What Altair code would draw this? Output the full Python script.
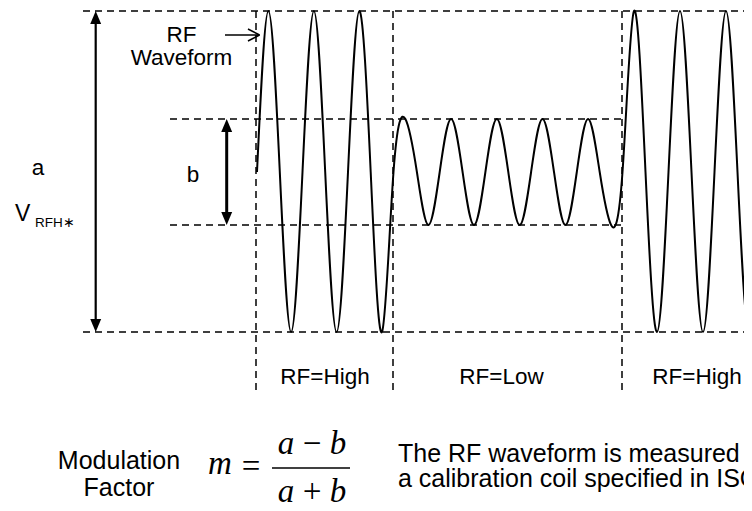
import altair as alt
import pandas as pd

# Chart covers the page area from (8,8); all values are in reference-pixel units
W, H = 736, 495
X0, Y0 = 8, 8

# RF waveform key points: zero crossings, peaks and troughs
wave_x = [257, 268.4, 279.8, 291.1, 302.5, 313.9, 325.2, 336.6, 348, 359.3, 370.7, 382, 393.5,
          405.4, 416.9, 428.3, 439.7, 451.1, 462.6, 474, 485.4, 496.8, 508.3, 519.7, 531.1,
          542.5, 554, 565.4, 576.8, 588.2, 599.7, 611.1, 622.5,
          634, 645.5, 657, 668.5, 680, 691.5, 703, 714.5, 726, 737.5, 749, 760.5]
wave_y = [172, 11, 172, 332, 172, 11, 172, 332, 172, 11, 172, 332, 172,
          119, 172, 225, 172, 119, 172, 225, 172, 119, 172, 225, 172,
          119, 172, 225, 172, 119, 172, 225, 172,
          11, 172, 332, 172, 11, 172, 332, 172, 11, 172, 332, 172]

# dashed reference lines
hdash_x = [83, 83, 170, 170]
hdash_x2 = [752, 752, 622, 622]
hdash_y = [11, 332, 119, 225]
vdash_x = [256, 393, 622]
vdash_y = [11, 11, 11]
vdash_y2 = [390, 390, 390]

# solid segments: a-arrow, b-arrow, RF pointer with open head, fraction bar
seg_x = [95.7, 226.7, 225, 259.5, 259.5, 272]
seg_y = [20, 126, 35, 35, 35, 468]
seg_x2 = [95.7, 226.7, 259.5, 248, 248, 350]
seg_y2 = [324, 218, 35, 29, 41, 468]
seg_w = [2.2, 3, 1.5, 1.5, 1.5, 1.6]

# filled arrowheads (tip positions)
head_x = [95.7, 95.7, 226.7, 226.7]
head_y = [11, 332, 119, 225]
head_dir = ["up", "down", "up", "down"]

# centred labels
lab_text = ["RF", "Waveform", "a", "b", "RF=High", "RF=Low", "RF=High"]
lab_x = [181.5, 181.5, 38, 193, 325, 501.5, 697]
lab_y = [42, 65, 175, 182, 384, 384, 384]

mod_text = ["Modulation", "Factor"]
mod_x = [119, 119]
mod_y = [469, 496]

note_text = ["The RF waveform is measured with", "a calibration coil specified in ISO"]
note_x = [398, 398]
note_y = [462, 487]

xs = alt.Scale(domain=[X0, X0 + W], nice=False, zero=False)
ys = alt.Scale(domain=[Y0, Y0 + H], reverse=True, nice=False, zero=False)

def X(f="x"):
    return alt.X(f + ":Q", scale=xs, axis=None)

def Y(f="y"):
    return alt.Y(f + ":Q", scale=ys, axis=None)

wave_df = pd.DataFrame({"x": wave_x, "y": wave_y, "i": range(len(wave_x))})
wave = alt.Chart(wave_df).mark_line(
    interpolate="natural", color="black", strokeWidth=2, clip=True
).encode(x=X(), y=Y(), order="i:Q")

hd = alt.Chart(pd.DataFrame({"x": hdash_x, "x2": hdash_x2, "y": hdash_y})).mark_rule(
    color="black", strokeWidth=1.5, strokeDash=[7, 5]
).encode(x=X(), x2="x2:Q", y=Y())

vd = alt.Chart(pd.DataFrame({"x": vdash_x, "y": vdash_y, "y2": vdash_y2})).mark_rule(
    color="black", strokeWidth=1.5, strokeDash=[7, 5]
).encode(x=X(), y=Y(), y2="y2:Q")

seg = alt.Chart(pd.DataFrame({"x": seg_x, "y": seg_y, "x2": seg_x2, "y2": seg_y2, "w": seg_w})).mark_rule(
    color="black"
).encode(x=X(), y=Y(), x2="x2:Q", y2="y2:Q", size=alt.Size("w:Q", scale=None, legend=None))

paths = {"up": "M0,0L-0.42,1L0.42,1Z", "down": "M0,0L-0.42,-1L0.42,-1Z"}
heads = alt.Chart(pd.DataFrame({"x": head_x, "y": head_y,
                                "s": [paths[d] for d in head_dir]})).mark_point(
    filled=True, color="black", opacity=1, size=676, strokeWidth=0
).encode(x=X(), y=Y(), shape=alt.Shape("s:N", scale=None, legend=None))

labels = alt.Chart(pd.DataFrame({"t": lab_text, "x": lab_x, "y": lab_y})).mark_text(
    font="Liberation Sans", fontSize=22.5, align="center", baseline="alphabetic", color="black"
).encode(x=X(), y=Y(), text="t:N")

vlab = alt.Chart(pd.DataFrame({"t": ["V"], "x": [15], "y": [221]})).mark_text(
    font="Liberation Sans", fontSize=23, align="left", baseline="alphabetic", color="black"
).encode(x=X(), y=Y(), text="t:N")
vsub = alt.Chart(pd.DataFrame({"t": ["RFH\u2217"], "x": [35], "y": [227]})).mark_text(
    font="Liberation Sans", fontSize=13.5, align="left", baseline="alphabetic", color="black"
).encode(x=X(), y=Y(), text="t:N")

mod = alt.Chart(pd.DataFrame({"t": mod_text, "x": mod_x, "y": mod_y})).mark_text(
    font="Liberation Sans", fontSize=25, align="center", baseline="alphabetic", color="black"
).encode(x=X(), y=Y(), text="t:N")

note = alt.Chart(pd.DataFrame({"t": note_text, "x": note_x, "y": note_y})).mark_text(
    font="Liberation Sans", fontSize=25, align="left", baseline="alphabetic", color="black"
).encode(x=X(), y=Y(), text="t:N")

formula_it = alt.Chart(pd.DataFrame({"t": ["m", "a\u2009\u2212\u2009b", "a\u2009+\u2009b"],
                                     "x": [220, 312, 312], "y": [474, 454, 501.5]})).mark_text(
    font="Liberation Serif", fontSize=33, fontStyle="italic", align="center",
    baseline="alphabetic", color="black"
).encode(x=X(), y=Y(), text="t:N")
formula_eq = alt.Chart(pd.DataFrame({"t": ["="], "x": [251], "y": [477]})).mark_text(
    font="Liberation Serif", fontSize=33, align="center", baseline="alphabetic", color="black"
).encode(x=X(), y=Y(), text="t:N")

chart = alt.layer(
    hd, vd, wave, seg, heads, labels, vlab, vsub, mod, note, formula_it, formula_eq
).properties(
    width=W, height=H, padding=0,
    autosize=alt.AutoSizeParams(type="none"),
    background="white"
).configure_view(stroke=None)

chart.save("out.html", embed_options={"renderer": "svg", "actions": False})
